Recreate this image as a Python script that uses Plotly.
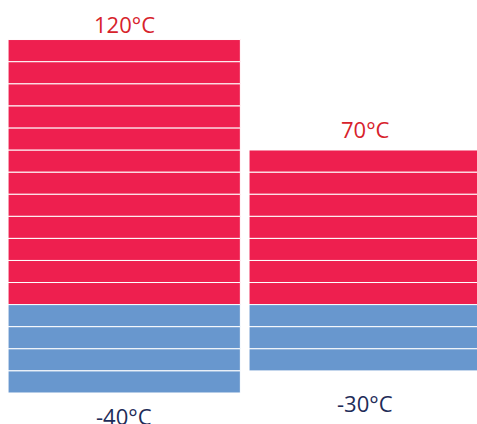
import plotly.graph_objects as go

# Data
columns = [0, 1]
highs = [120, 70]
lows = [-40, -30]
step = 10
high_labels = ["120°C", "70°C"]
low_labels = ["-40°C", "-30°C"]

RED = "#EE1F4F"
BLUE = "#6897CE"
RED_TXT = "#D7222B"
NAVY_TXT = "#1E2C58"

fig = go.Figure()

for ci, (hi, lo) in enumerate(zip(highs, lows)):
    n_pos = hi // step
    n_neg = -lo // step
    for k in range(n_pos):
        fig.add_trace(go.Bar(
            x=[columns[ci]], y=[step], base=[k * step], width=0.964,
            marker=dict(color=RED, line=dict(color="white", width=1)),
            showlegend=False, hoverinfo="skip"))
    for k in range(n_neg):
        fig.add_trace(go.Bar(
            x=[columns[ci]], y=[step], base=[-(k + 1) * step], width=0.964,
            marker=dict(color=BLUE, line=dict(color="white", width=1)),
            showlegend=False, hoverinfo="skip"))

font_family = "Open Sans"
hi_shifts = [16, 21]
lo_shifts = [-23, -32]
for ci in range(len(columns)):
    fig.add_annotation(x=columns[ci], y=highs[ci], text=high_labels[ci],
                       showarrow=False, yanchor="middle", yshift=hi_shifts[ci],
                       font=dict(size=22, color=RED_TXT, family=font_family))
    fig.add_annotation(x=columns[ci], y=lows[ci], text=low_labels[ci],
                       showarrow=False, yanchor="middle", yshift=lo_shifts[ci],
                       font=dict(size=22, color=NAVY_TXT, family=font_family))

fig.update_layout(
    width=477, height=424,
    margin=dict(l=0, r=0, t=0, b=0),
    paper_bgcolor="white", plot_bgcolor="white",
    barmode="overlay",
    xaxis=dict(range=[-0.5154, 1.4639], visible=False, fixedrange=True),
    yaxis=dict(range=[-54.04, 137.9], visible=False, fixedrange=True),
)

fig.write_html(
    "out.html",
    config={"displayModeBar": False},
    post_script=("document.documentElement.style.overflow='hidden';"
                 "document.documentElement.style.margin='0';"
                 "document.body.style.margin='0';"
                 "document.body.style.overflow='hidden';"),
)
